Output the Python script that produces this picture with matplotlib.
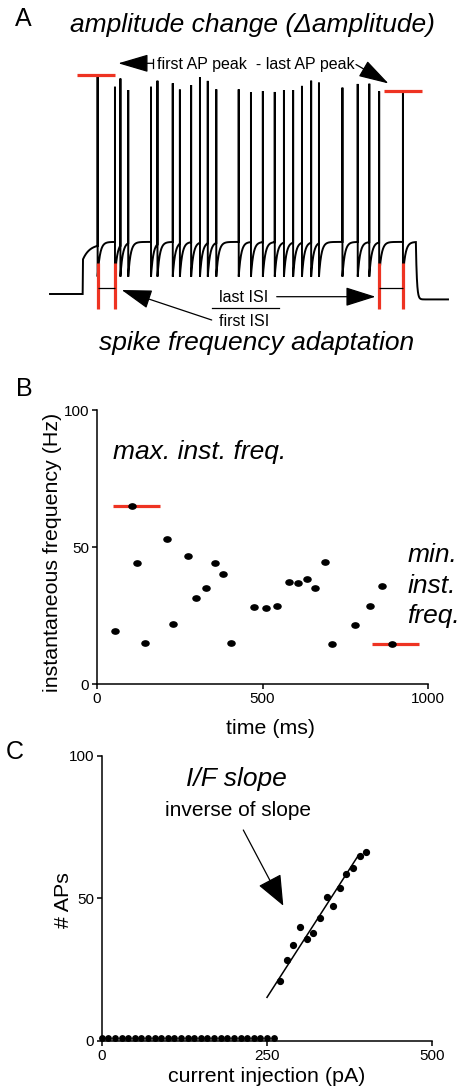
import numpy as np
import matplotlib
matplotlib.use("Agg")
import matplotlib.pyplot as plt
from matplotlib.markers import MarkerStyle
from matplotlib.transforms import Affine2D

plt.rcParams['font.family'] = ['Liberation Sans', 'DejaVu Sans']

# ---------------- Panel A data (time in ms, membrane potential in mV) ----------------
spike_times = [43, 94, 110, 133, 200, 219, 264, 285, 318, 344, 367, 392, 458,
               494, 529, 564, 591, 618, 644, 671, 694, 763, 808, 842, 871, 941]
spike_peaks = [30.0, 25.5, 29.3, 24.0, 25.5, 28.3, 27.1, 24.2, 26.3, 30.0, 28.2,
               24.3, 24.3, 22.9, 23.5, 23.1, 24.0, 24.0, 25.9, 28.3, 27.4, 25.1,
               26.8, 26.9, 23.4, 22.5]
rest_pre = -70.0
rest_post = -72.5
step_on, step_off = 0, 979
trace_start, trace_end = -97, 1074
onset_v0, onset_rise = -54.0, 7.0
ahp_trough = -62.0
plateau = -46.0

# ---------------- Panel B data ----------------
isi_time = [55, 107, 122, 145, 212, 231, 276, 299, 330, 358, 381, 406, 474,
            510, 544, 580, 607, 633, 659, 689, 710, 779, 824, 861, 891]
inst_freq = [19.4, 65.1, 44.2, 14.9, 53.0, 21.9, 46.7, 31.6, 35.1, 44.1, 40.3,
             14.9, 28.2, 27.9, 28.5, 37.4, 37.0, 38.4, 35.1, 44.7, 14.8, 21.7,
             28.4, 36.0, 14.6]
max_bar = [48, 191]
min_bar = [829, 972]

# ---------------- Panel C data ----------------
current_sub = [0, 10, 20, 30, 40, 50, 60, 70, 80, 90, 100, 110, 120, 130, 140,
               150, 160, 170, 180, 190, 200, 210, 220, 230, 240, 250, 260]
aps_sub = [1] * len(current_sub)
current_supra = [270, 280, 290, 300, 310, 320, 330, 340, 350, 360, 370, 380, 390, 400]
aps_supra = [21.0, 28.3, 33.5, 39.8, 35.6, 37.7, 43.0, 50.4, 47.2, 53.5, 58.6,
             60.7, 64.9, 66.1]
fit_current = [250, 388]
fit_aps = [15.3, 65.0]

RED = '#EE3322'
W, H = 459, 1090

fig = plt.figure(figsize=(W / 100, H / 100), dpi=100)


def ff(x, y):
    """pixel (from top-left) -> figure fraction"""
    return (x / W, 1 - y / H)


# ---------------- Panel A ----------------
def build_trace():
    T, V = [], []
    t = np.arange(trace_start, step_on, 1.0)
    T += list(t); V += [rest_pre] * len(t)
    t = np.arange(step_on, spike_times[0], 0.5)
    v = onset_v0 + onset_rise * (1 - np.exp(-(t - step_on) / 20.0))
    T += list(t); V += list(v)
    for i, (ts, pk) in enumerate(zip(spike_times, spike_peaks)):
        T += [ts, ts, ts + 0.05]
        V += [V[-1], pk, ahp_trough]
        tend = spike_times[i + 1] if i + 1 < len(spike_times) else step_off
        t = np.arange(ts + 0.5, tend, 0.5)
        v = plateau - (plateau - ahp_trough) * np.exp(-(t - ts) / 7.0)
        T += list(t); V += list(v)
    v0 = V[-1]
    t = np.arange(step_off, trace_end, 0.5)
    v = rest_post + (v0 - rest_post) * np.exp(-(t - step_off) / 3.0)
    T += list(t); V += list(v)
    return np.array(T), np.array(V)


def px2t(x):
    return (x - 83) / 0.34


def py2v(y):
    return -70 + (294 - y) / 2.17


axA = fig.add_axes([0, 1 - 360 / H, 1, 320 / H])
axA.set_xlim(px2t(0), px2t(W))
axA.set_ylim(py2v(360), py2v(40))
axA.axis('off')

T, V = build_trace()
axA.plot(T, V, color='black', lw=1.4, solid_joinstyle='miter')

# amplitude bars
half = 57
axA.hlines(spike_peaks[0] + 1.1, spike_times[0] - half - 5, spike_times[0] + half - 5,
           color=RED, lw=2.3)
axA.hlines(spike_peaks[-1] + 0.9, spike_times[-1] - half, spike_times[-1] + half,
           color=RED, lw=2.3)
# ISI bars
isi_lo, isi_hi, isi_mid = py2v(309.3), py2v(263.3), py2v(288.3)
for ts in [spike_times[0], spike_times[1], spike_times[-2], spike_times[-1]]:
    axA.vlines(ts, isi_lo, isi_hi, color=RED, lw=2.3)
axA.hlines(isi_mid, spike_times[0], spike_times[1], color='black', lw=0.9)
axA.hlines(isi_mid, spike_times[-2], spike_times[-1], color='black', lw=0.9)


def arrow(x0, y0, x1, y1, hl=0.95, hw=0.28):
    fig.add_artist(matplotlib.patches.FancyArrowPatch(
        ff(x0, y0), ff(x1, y1), transform=fig.transFigure,
        arrowstyle=f'-|>,head_length={hl},head_width={hw}', mutation_scale=20,
        lw=0.9, color='black', shrinkA=0, shrinkB=0))


fig.text(*ff(23, 19), 'A', fontsize=18, ha='center', va='center')
fig.text(*ff(252.5, 25), 'amplitude change (Δamplitude)', fontsize=19,
         style='italic', ha='center', va='center')
fig.text(*ff(255.8, 64.3), 'first AP peak  - last AP peak', fontsize=11.5,
         ha='center', va='center')
arrow(153, 63.3, 118.3, 63.3, hw=0.28)
fig.add_artist(matplotlib.lines.Line2D([153 / W, 153 / W], [1 - 59 / H, 1 - 68 / H],
                                       color='black', lw=0.9))
arrow(356, 64.5, 388.5, 83.5, hw=0.28)

fig.text(*ff(244, 297.7), 'last ISI', fontsize=11.5, ha='center', va='center')
fig.text(*ff(244, 321.7), 'first ISI', fontsize=11.5, ha='center', va='center')
fig.add_artist(matplotlib.lines.Line2D([212 / W, 279 / W], [1 - 308.3 / H] * 2,
                                       color='black', lw=0.9))
arrow(211.7, 320, 121.7, 290, hw=0.3)
arrow(276.7, 296.7, 375.5, 296.7, hw=0.3)
fig.text(*ff(256.5, 343), 'spike frequency adaptation', fontsize=19,
         style='italic', ha='center', va='center')


def style_axes(ax):
    for s in ['top', 'right']:
        ax.spines[s].set_visible(False)
    for s in ['left', 'bottom']:
        ax.spines[s].set_linewidth(1.1)
    ax.tick_params(direction='out', length=3.5, width=1.1, labelsize=11, pad=2)


# ---------------- Panel B ----------------
axB = fig.add_axes([96.7 / W, 1 - 684.3 / H, (428.3 - 96.7) / W, (684.3 - 410) / H])
axB.set_xlim(0, 1000)
axB.set_ylim(0, 100)
style_axes(axB)
axB.set_xticks([0, 500, 1000])
axB.set_yticks([0, 50, 100])
ell = MarkerStyle('o', transform=Affine2D().scale(1.35, 1.0))
axB.plot(isi_time, inst_freq, ls='none', marker=ell, ms=3.8, color='black',
         clip_on=False)
fmax, fmin = max(inst_freq), min(inst_freq)
axB.hlines(fmax, max_bar[0], max_bar[1], color=RED, lw=2.3, zorder=1)
axB.hlines(fmin, min_bar[0], min_bar[1], color=RED, lw=2.3, zorder=1, clip_on=False)
axB.text(48, 84.8, 'max. inst. freq.', fontsize=19, style='italic', ha='left',
         va='center')
for lbl, yv in zip(['min.', 'inst.', 'freq.'], [47.1, 35.9, 24.9]):
    axB.text(936.7, yv, lbl, fontsize=19, style='italic', ha='left', va='center',
             clip_on=False)

fig.text(*ff(24, 389), 'B', fontsize=18, ha='center', va='center')
fig.text(*ff(52.6, 552.4), 'instantaneous frequency (Hz)', fontsize=15.4,
         rotation=90, ha='center', va='center')
fig.text(*ff(270, 728), 'time (ms)', fontsize=15.4, ha='center', va='center')

# ---------------- Panel C ----------------
axC = fig.add_axes([101.7 / W, 1 - 1041 / H, (432.3 - 101.7) / W, (1041 - 755.7) / H])
axC.set_xlim(0, 500)
axC.set_ylim(0, 100)
style_axes(axC)
axC.set_xticks([0, 250, 500])
axC.set_yticks([0, 50, 100])
axC.plot(current_sub, aps_sub, ls='none', marker='o', ms=3.9, color='black',
         clip_on=False)
axC.plot(current_supra, aps_supra, ls='none', marker='o', ms=4.2, color='black',
         clip_on=False)
axC.plot(fit_current, fit_aps, color='black', lw=1.1)

fig.text(*ff(14.5, 752), 'C', fontsize=18, ha='center', va='center')
fig.text(*ff(236.7, 779.3), 'I/F slope', fontsize=19, style='italic',
         ha='center', va='center')
fig.text(*ff(238.3, 810), 'inverse of slope', fontsize=15, ha='center', va='center')
arrow(243.3, 830, 283.3, 905.7, hl=0.96, hw=0.4)
fig.text(*ff(63.3, 900), '# APs', fontsize=15.4, rotation=90, ha='center',
         va='center')
fig.text(*ff(266.7, 1076.7), 'current injection (pA)', fontsize=15.4,
         ha='center', va='center')

fig.savefig('out.png', dpi=100)
